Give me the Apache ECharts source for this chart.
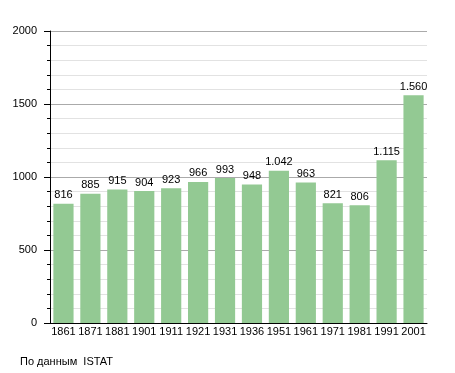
<!DOCTYPE html>
<html><head><meta charset="utf-8">
<script src="https://cdn.jsdelivr.net/npm/echarts@6/dist/echarts.min.js"></script>
<style>html,body{margin:0;padding:0;background:#fff}#c{width:455px;height:373px}</style>
</head><body><div id="c"></div>
<script>
const years = ['1861','1871','1881','1901','1911','1921','1931','1936','1951','1961','1971','1981','1991','2001'];
const population = [816,885,915,904,923,966,993,948,1042,963,821,806,1115,1560];
const yTicks = [0,500,1000,1500,2000];
const sourceText = 'По данным  ISTAT';

function fmt(v){ return String(v).replace(/\B(?=(\d{3})+(?!\d))/g,'.'); }

const chart = echarts.init(document.getElementById('c'), null, {renderer:'canvas'});
chart.setOption({
  animation:false,
  textStyle:{fontFamily:'Liberation Sans, Arial, sans-serif'},
  grid:{left:50,right:28,top:31,bottom:50},
  xAxis:{type:'category',data:years,
    axisLine:{lineStyle:{color:'#000',width:1}},
    axisTick:{show:false},
    axisLabel:{color:'#000',fontSize:11,margin:3,interval:0}},
  yAxis:{type:'value',min:yTicks[0],max:yTicks[yTicks.length-1],interval:500,
    axisLine:{show:true,lineStyle:{color:'#000',width:1}},
    axisTick:{show:true,length:6,lineStyle:{color:'#000'}},
    minorTick:{show:true,splitNumber:5,length:3,lineStyle:{color:'#000'}},
    splitLine:{lineStyle:{color:'#aaa',width:1}},
    minorSplitLine:{show:true,lineStyle:{color:'#e2e2e2',width:1}},
    axisLabel:{color:'#000',fontSize:11,margin:13,formatter:v=>String(v)}},
  series:[{type:'bar',data:population,barCategoryGap:'25%',
    itemStyle:{color:'#93c993'},
    label:{show:true,position:'top',color:'#000',fontSize:11,distance:3,formatter:p=>fmt(p.value)}}],
  graphic:[{type:'text',left:20,top:356,style:{text:sourceText,fill:'#000',fontSize:11,fontFamily:'Liberation Sans, Arial, sans-serif'}}]
});
</script></body></html>
